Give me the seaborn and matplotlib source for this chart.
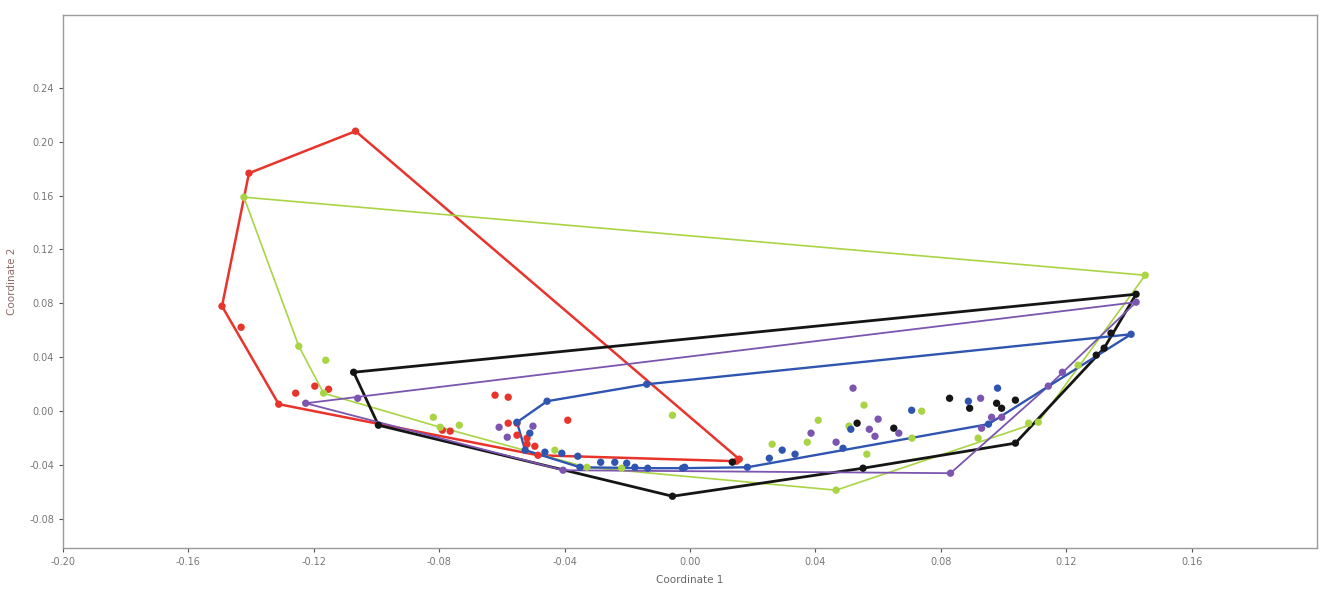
import numpy as np
import pandas as pd
import matplotlib
matplotlib.use("Agg")
import matplotlib.pyplot as plt
import seaborn as sns

# NMDS scores per group
red_x = [-0.1067, -0.1407, -0.1493, -0.1312, -0.0485, 0.0148, -0.1432, -0.1258, -0.1197, -0.1153,
         -0.0790, -0.0765, -0.0622, -0.0580, -0.0390, -0.0580, -0.0552, -0.0520, -0.0520, -0.0495,
         -0.0552, 0.0157]
red_y = [0.2078, 0.1766, 0.0779, 0.0052, -0.0327, -0.0371, 0.0623, 0.0134, 0.0186, 0.0163,
         -0.0141, -0.0148, 0.0119, 0.0104, -0.0067, -0.0089, -0.0089, -0.0200, -0.0245, -0.0260,
         -0.0178, -0.0356]

green_x = [-0.1423, 0.1452, 0.1111, 0.1080, 0.0466, -0.0329, -0.0797, -0.1169, -0.1248, -0.1162,
           -0.0819, -0.0736, -0.0431, -0.0218, -0.0056, 0.0555, 0.0409, 0.0374, 0.0262, 0.0507,
           0.0564, 0.0708, 0.0739, 0.0919, 0.1238]
green_y = [0.1588, 0.1009, -0.0082, -0.0089, -0.0586, -0.0416, -0.0119, 0.0134, 0.0482, 0.0378,
           -0.0045, -0.0104, -0.0289, -0.0423, -0.0030, 0.0045, -0.0067, -0.0230, -0.0245, -0.0111,
           -0.0319, -0.0200, 0.0000, -0.0200, 0.0341]

black_x = [-0.1073, 0.1423, 0.1038, 0.0552, -0.0056, -0.0994, 0.0533, 0.0650, 0.0828, 0.0892,
           0.0978, 0.0994, 0.1038, 0.1343, 0.1321, 0.1296, 0.0135]
black_y = [0.0289, 0.0868, -0.0237, -0.0423, -0.0631, -0.0104, -0.0089, -0.0126, 0.0096, 0.0022,
           0.0059, 0.0022, 0.0082, 0.0579, 0.0468, 0.0416, -0.0378]

purple_x = [-0.1226, 0.1423, 0.0831, -0.0405, -0.1060, -0.0609, -0.0501, -0.0583, 0.0520, 0.0386,
            0.0466, 0.0572, 0.0590, 0.0600, 0.0666, 0.0927, 0.0962, 0.0994, 0.0930, 0.1143, 0.1188]
purple_y = [0.0059, 0.0809, -0.0460, -0.0438, 0.0096, -0.0119, -0.0111, -0.0193, 0.0171, -0.0163,
            -0.0230, -0.0134, -0.0186, -0.0059, -0.0163, 0.0096, -0.0045, -0.0045, -0.0126, 0.0186, 0.0289]

blue_x = [-0.0552, -0.0456, -0.0138, 0.1407, 0.0952, 0.0253, 0.0183, -0.0024, -0.0351, -0.0526,
          -0.0463, -0.0409, -0.0358, -0.0285, -0.0240, -0.0202, -0.0176, -0.0135, -0.0017, 0.0294,
          0.0335, 0.0488, 0.0513, 0.0707, 0.0888, 0.0981, -0.0511]
blue_y = [-0.0082, 0.0074, 0.0200, 0.0571, -0.0096, -0.0349, -0.0416, -0.0423, -0.0416, -0.0289,
          -0.0304, -0.0312, -0.0334, -0.0379, -0.0379, -0.0386, -0.0416, -0.0423, -0.0416, -0.0289,
          -0.0319, -0.0275, -0.0134, 0.0007, 0.0074, 0.0171, -0.0163]

x_ticks = [-0.20, -0.16, -0.12, -0.08, -0.04, 0.00, 0.04, 0.08, 0.12, 0.16]
y_ticks = [-0.08, -0.04, 0.00, 0.04, 0.08, 0.12, 0.16, 0.20, 0.24]

groups = {
    "red": (red_x, red_y),
    "green": (green_x, green_y),
    "black": (black_x, black_y),
    "purple": (purple_x, purple_y),
    "blue": (blue_x, blue_y),
}
colors = {"red": "#e8342b", "green": "#a9d444", "black": "#151515",
          "purple": "#7b55b0", "blue": "#2f55b0"}
widths = {"red": 1.8, "green": 1.2, "black": 2.0, "purple": 1.3, "blue": 1.7}


def convex_hull(xs, ys):
    pts = sorted(set(zip(xs, ys)))

    def cross(o, a, b):
        return (a[0] - o[0]) * (b[1] - o[1]) - (a[1] - o[1]) * (b[0] - o[0])

    lower, upper = [], []
    for p in pts:
        while len(lower) >= 2 and cross(lower[-2], lower[-1], p) <= 0:
            lower.pop()
        lower.append(p)
    for p in reversed(pts):
        while len(upper) >= 2 and cross(upper[-2], upper[-1], p) <= 0:
            upper.pop()
        upper.append(p)
    hull = lower[:-1] + upper[:-1]
    return hull + [hull[0]]


rows = []
for g, (xs, ys) in groups.items():
    for x, y in zip(xs, ys):
        rows.append({"Coordinate 1": x, "Coordinate 2": y, "group": g})
df = pd.DataFrame(rows)

sns.set_style("white")
plt.rcParams["font.family"] = ["DejaVu Sans"]
plt.rcParams["axes.unicode_minus"] = False

fig = plt.figure(figsize=(13.22, 5.97), dpi=100)
ax = fig.add_axes([0.0477, 0.0821, 0.9485, 0.8928])

for g, (xs, ys) in groups.items():
    hull = convex_hull(xs, ys)
    hx = [p[0] for p in hull]
    hy = [p[1] for p in hull]
    ax.plot(hx, hy, color=colors[g], lw=widths[g], zorder=2, solid_joinstyle="round")

sns.scatterplot(data=df, x="Coordinate 1", y="Coordinate 2", hue="group", palette=colors,
                s=28, linewidth=0, legend=False, zorder=3, ax=ax)

ax.set_xlim(-0.2, 0.2)
ax.set_ylim(-0.1015, 0.294)
ax.set_xticks(x_ticks)
ax.set_xticklabels([f"{v:.2f}" for v in x_ticks])
ax.set_yticks(y_ticks)
ax.set_yticklabels([f"{v:.2f}" for v in y_ticks])
ax.tick_params(axis="both", which="both", direction="out", length=3, width=0.8,
               labelsize=7, labelcolor="#777777", color="#555555", bottom=True, left=True)
ax.set_xlabel("Coordinate 1", fontsize=7.5, color="#666666", labelpad=6)
ax.set_ylabel("Coordinate 2", fontsize=7.5, color="#8a6a66", labelpad=9)
for side in ax.spines.values():
    side.set_color("#9a9a9a")
    side.set_linewidth(1.0)

fig.savefig("out.png", dpi=100)
